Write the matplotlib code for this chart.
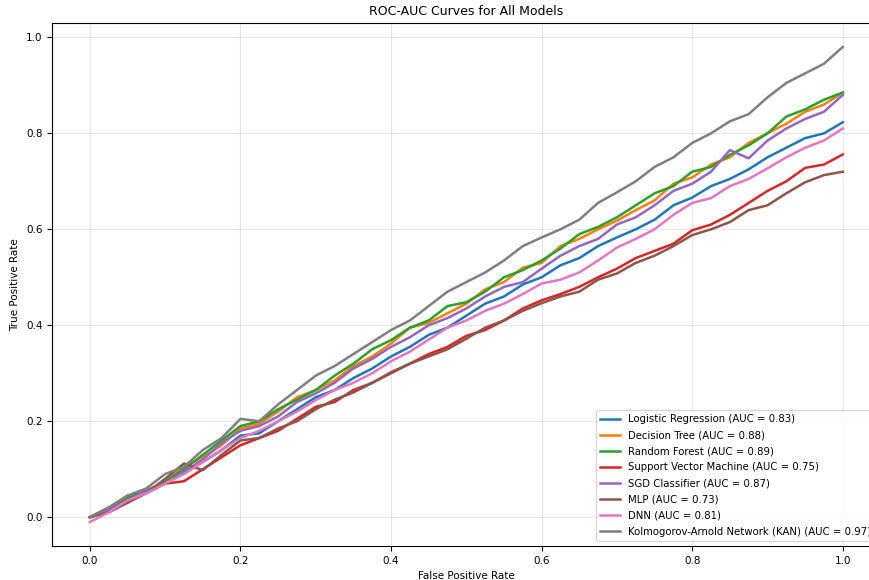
import numpy as np
import matplotlib.pyplot as plt

# false positive rate grid (step 0.025)
fpr = np.linspace(0, 1, 41)

models = ["Logistic Regression", "Decision Tree", "Random Forest",
          "Support Vector Machine", "SGD Classifier", "MLP", "DNN",
          "Kolmogorov-Arnold Network (KAN)"]
aucs = [0.83, 0.88, 0.89, 0.75, 0.87, 0.73, 0.81, 0.97]

# true positive rates
tpr_lr = [0.000, 0.020, 0.040, 0.050, 0.070, 0.095, 0.115, 0.140, 0.170, 0.175,
          0.200, 0.225, 0.250, 0.265, 0.290, 0.310, 0.335, 0.355, 0.380, 0.395,
          0.420, 0.445, 0.460, 0.485, 0.500, 0.525, 0.540, 0.565, 0.583, 0.600,
          0.620, 0.650, 0.666, 0.690, 0.705, 0.725, 0.750, 0.770, 0.790, 0.800,
          0.823]
tpr_dt = [0.000, 0.020, 0.045, 0.050, 0.075, 0.105, 0.125, 0.150, 0.185, 0.195,
          0.220, 0.250, 0.265, 0.285, 0.315, 0.335, 0.362, 0.395, 0.405, 0.425,
          0.445, 0.475, 0.490, 0.520, 0.530, 0.565, 0.580, 0.600, 0.618, 0.640,
          0.660, 0.695, 0.708, 0.735, 0.750, 0.780, 0.800, 0.820, 0.845, 0.860,
          0.885]
tpr_rf = [0.000, 0.015, 0.040, 0.055, 0.075, 0.100, 0.130, 0.160, 0.190, 0.200,
          0.225, 0.245, 0.265, 0.295, 0.320, 0.350, 0.369, 0.395, 0.410, 0.440,
          0.448, 0.470, 0.500, 0.515, 0.535, 0.560, 0.590, 0.605, 0.625, 0.650,
          0.675, 0.690, 0.720, 0.730, 0.755, 0.775, 0.800, 0.835, 0.850, 0.870,
          0.885]
tpr_svm = [0.000, 0.015, 0.035, 0.055, 0.070, 0.075, 0.100, 0.125, 0.150, 0.165,
           0.180, 0.205, 0.230, 0.240, 0.265, 0.280, 0.302, 0.320, 0.340, 0.355,
           0.378, 0.390, 0.410, 0.435, 0.452, 0.465, 0.480, 0.500, 0.518, 0.540,
           0.555, 0.570, 0.598, 0.610, 0.630, 0.655, 0.680, 0.700, 0.728, 0.735,
           0.756]
tpr_sgd = [0.000, 0.015, 0.035, 0.055, 0.070, 0.095, 0.120, 0.155, 0.180, 0.190,
           0.210, 0.240, 0.258, 0.280, 0.310, 0.330, 0.355, 0.375, 0.400, 0.415,
           0.435, 0.460, 0.480, 0.490, 0.518, 0.545, 0.565, 0.580, 0.610, 0.625,
           0.650, 0.680, 0.695, 0.720, 0.765, 0.748, 0.785, 0.810, 0.830, 0.845,
           0.880]
tpr_mlp = [0.000, 0.010, 0.030, 0.050, 0.080, 0.112, 0.098, 0.130, 0.160, 0.165,
           0.185, 0.200, 0.225, 0.245, 0.260, 0.280, 0.300, 0.320, 0.335, 0.350,
           0.372, 0.395, 0.410, 0.430, 0.446, 0.460, 0.470, 0.495, 0.508, 0.530,
           0.545, 0.565, 0.588, 0.600, 0.615, 0.640, 0.650, 0.675, 0.698, 0.713,
           0.720]
tpr_dnn = [-0.010, 0.010, 0.035, 0.050, 0.070, 0.090, 0.115, 0.140, 0.165, 0.180,
           0.200, 0.220, 0.244, 0.265, 0.280, 0.300, 0.325, 0.345, 0.370, 0.395,
           0.410, 0.430, 0.445, 0.465, 0.487, 0.495, 0.510, 0.535, 0.562, 0.580,
           0.600, 0.630, 0.655, 0.665, 0.690, 0.705, 0.727, 0.750, 0.770, 0.785,
           0.810]
tpr_kan = [0.000, 0.020, 0.045, 0.060, 0.090, 0.105, 0.140, 0.165, 0.205, 0.200,
           0.235, 0.265, 0.295, 0.315, 0.340, 0.365, 0.390, 0.410, 0.440, 0.470,
           0.490, 0.510, 0.535, 0.565, 0.583, 0.600, 0.620, 0.655, 0.677, 0.700,
           0.730, 0.750, 0.780, 0.800, 0.825, 0.840, 0.875, 0.905, 0.925, 0.945,
           0.980]

all_tpr = [tpr_lr, tpr_dt, tpr_rf, tpr_svm, tpr_sgd, tpr_mlp, tpr_dnn, tpr_kan]

fig, ax = plt.subplots(figsize=(8.7, 5.8), dpi=100)
# the reference is cropped on the right, so the axes run past the edge
fig.subplots_adjust(left=0.06, right=1.012, top=0.960, bottom=0.059)

for name, auc, tpr in zip(models, aucs, all_tpr):
    ax.plot(fpr, tpr, linewidth=1.8, label=f"{name} (AUC = {auc:.2f})")

ax.set_title("ROC-AUC Curves for All Models", fontsize=9)
ax.set_xlabel("False Positive Rate", fontsize=7.5)
ax.set_ylabel("True Positive Rate", fontsize=7.5)
ax.tick_params(labelsize=7.5)
ax.grid(alpha=0.3)
ax.legend(loc="lower right", fontsize=7.3, labelspacing=0.6)

plt.savefig("out.png", dpi=100)
